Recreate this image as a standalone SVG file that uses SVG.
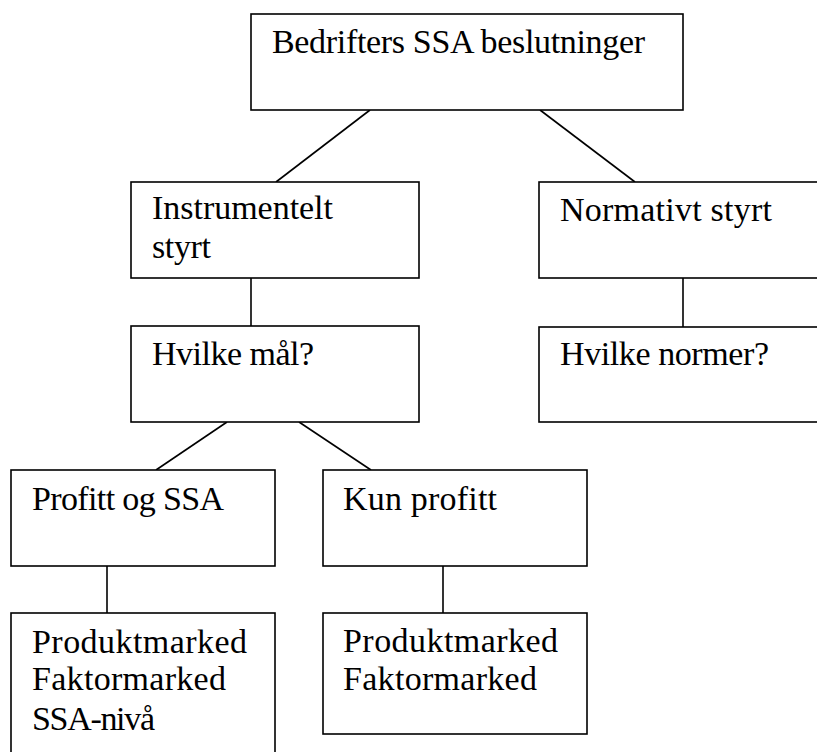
<svg xmlns="http://www.w3.org/2000/svg" width="817" height="752" viewBox="0 0 817 752">
<style>
.box{fill:#fff;stroke:#000;stroke-width:1.6}
.conn line{stroke:#000;stroke-width:1.6}
text{font-family:"Liberation Serif","Times New Roman",serif;font-size:34px;fill:#000}
</style>
<rect width="817" height="752" fill="#fff"/>
<g id="connectors" class="conn">
<line x1="370" y1="110" x2="276" y2="182"/>
<line x1="540" y1="110" x2="635" y2="182"/>
<line x1="251" y1="278" x2="251" y2="326"/>
<line x1="683" y1="278" x2="683" y2="327"/>
<line x1="227" y1="422" x2="156" y2="470"/>
<line x1="299" y1="422" x2="371" y2="470"/>
<line x1="107" y1="566" x2="107" y2="613"/>
<line x1="443" y1="566" x2="443" y2="613"/>
</g>
<g id="n-root"><rect class="box" x="251" y="14" width="432" height="96"/><text x="272" y="53" textLength="373" lengthAdjust="spacing">Bedrifters SSA beslutninger</text></g>
<g id="n-instr"><rect class="box" x="131" y="182" width="288" height="96"/><text x="152" y="219" textLength="181" lengthAdjust="spacing">Instrumentelt</text><text x="152" y="258" textLength="59" lengthAdjust="spacing">styrt</text></g>
<g id="n-norm"><rect class="box" x="539" y="182" width="300" height="96"/><text x="560" y="221" textLength="212" lengthAdjust="spacing">Normativt styrt</text></g>
<g id="n-maal"><rect class="box" x="131" y="326" width="288" height="96"/><text x="152" y="365" textLength="162" lengthAdjust="spacing">Hvilke mål?</text></g>
<g id="n-normer"><rect class="box" x="539" y="327" width="300" height="95"/><text x="560" y="365" textLength="209" lengthAdjust="spacing">Hvilke normer?</text></g>
<g id="n-profssa"><rect class="box" x="11" y="470" width="264" height="96"/><text x="32" y="510" textLength="192" lengthAdjust="spacing">Profitt og SSA</text></g>
<g id="n-kun"><rect class="box" x="323" y="470" width="264" height="96"/><text x="343" y="510" textLength="154" lengthAdjust="spacing">Kun profitt</text></g>
<g id="n-marked1"><rect class="box" x="11" y="613" width="264" height="150"/><text x="32" y="653" textLength="215" lengthAdjust="spacing">Produktmarked</text><text x="32" y="690" textLength="194" lengthAdjust="spacing">Faktormarked</text><text x="32" y="730" textLength="123" lengthAdjust="spacing">SSA-nivå</text></g>
<g id="n-marked2"><rect class="box" x="323" y="613" width="264" height="121"/><text x="343" y="652" textLength="215" lengthAdjust="spacing">Produktmarked</text><text x="343" y="690" textLength="194" lengthAdjust="spacing">Faktormarked</text></g>
</svg>
